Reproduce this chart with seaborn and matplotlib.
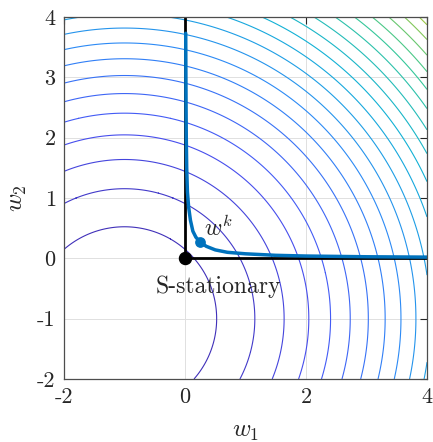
import numpy as np
import matplotlib
matplotlib.use("Agg")
import matplotlib.pyplot as plt
from matplotlib.colors import LinearSegmentedColormap
import seaborn as sns
import pandas as pd

# ---- data ----
center = [-1.0, -1.0]
levels = [2.32, 4.64, 6.96, 9.28, 11.6, 13.92, 16.24, 18.56, 20.88, 23.2,
          25.52, 27.84, 30.16, 32.48, 34.8, 37.12, 39.44, 41.76, 44.08, 46.4, 48.72]
traj_w1 = [0.012, 0.014, 0.017, 0.021, 0.028, 0.04, 0.06, 0.09, 0.13, 0.18, 0.25,
           0.35, 0.5, 0.7, 1.0, 1.5, 2.0, 3.0, 4.0]
traj_w2 = [3.73, 3.2, 2.6, 2.0, 1.5, 1.1, 0.85, 0.63, 0.45, 0.35, 0.27,
           0.2, 0.14, 0.1, 0.075, 0.05, 0.038, 0.026, 0.02]
wk = [0.25, 0.27]
stat_pt = [0.0, 0.0]
xticks = [-2, 0, 2, 4]
yticks = [-2, -1, 0, 1, 2, 3, 4]

sns.set_style("white")
plt.rcParams['font.family'] = ['cmr10', 'DejaVu Serif']
plt.rcParams['mathtext.fontset'] = 'cm'
plt.rcParams['axes.formatter.use_mathtext'] = True

parula = LinearSegmentedColormap.from_list("parula", [
    (0.0, (0.2422, 0.1504, 0.6603)),
    (0.125, (0.2810, 0.3228, 0.9579)),
    (0.25, (0.1786, 0.5289, 0.9682)),
    (0.375, (0.0689, 0.6948, 0.8394)),
    (0.5, (0.2161, 0.7843, 0.5923)),
    (0.625, (0.6720, 0.7793, 0.2227)),
    (0.75, (0.9970, 0.7659, 0.2199)),
    (0.875, (0.9657, 0.9212, 0.1437)),
    (1.0, (0.9763, 0.9831, 0.0538)),
])

fig = plt.figure(figsize=(4.33, 4.42), dpi=100)
ax = fig.add_axes([64/433, 1-379/442, (427-64)/433, (379-17)/442])

g = np.linspace(-2, 4, 601)
X, Y = np.meshgrid(g, g)
Z = (X - center[0])**2 + (Y - center[1])**2
ax.contour(X, Y, Z, levels=levels, cmap=parula, vmin=0, vmax=80, linewidths=0.8, zorder=1)

gc = (0.88, 0.88, 0.88)
for t in xticks:
    ax.axvline(t, color=gc, lw=0.7, zorder=0)
for t in yticks:
    ax.axhline(t, color=gc, lw=0.7, zorder=0)

ax.plot([0, 0], [0, 4], color='black', lw=2.0, zorder=3)
ax.plot([0, 4], [0, 0], color='black', lw=2.0, zorder=3)

df = pd.DataFrame({'w1': traj_w1, 'w2': traj_w2})
sns.lineplot(data=df, x='w1', y='w2', sort=False, color='#0072BD', lw=2.5, ax=ax, zorder=4)
ax.scatter([wk[0]], [wk[1]], s=45, color='#0072BD', zorder=5)
ax.scatter([stat_pt[0]], [stat_pt[1]], s=75, color='black', zorder=5)

ax.text(wk[0] + 0.07, wk[1] + 0.02, r'$w^k$', fontsize=17, ha='left', va='bottom', zorder=6)
ax.text(0.55, -0.47, 'S-stationary', fontsize=17, ha='center', va='center', zorder=6)

ax.set_xlim(-2, 4)
ax.set_ylim(-2, 4)
ax.set_xticks(xticks)
ax.set_yticks(yticks)
ax.set_xticklabels([str(t) for t in xticks])
ax.set_yticklabels([str(t) for t in yticks])
ax.tick_params(direction='in', length=5, width=0.8, colors='#262626', labelsize=16,
               top=True, right=True, pad=6)
for s in ax.spines.values():
    s.set_color('#4d4d4d')
    s.set_linewidth(0.9)
    s.set_zorder(7)
ax.set_xlabel(r'$w_1$', fontsize=18, color='#262626', labelpad=10)
ax.set_ylabel(r'$w_2$', fontsize=18, color='#262626', labelpad=6)

fig.savefig('out.png', dpi=100)
